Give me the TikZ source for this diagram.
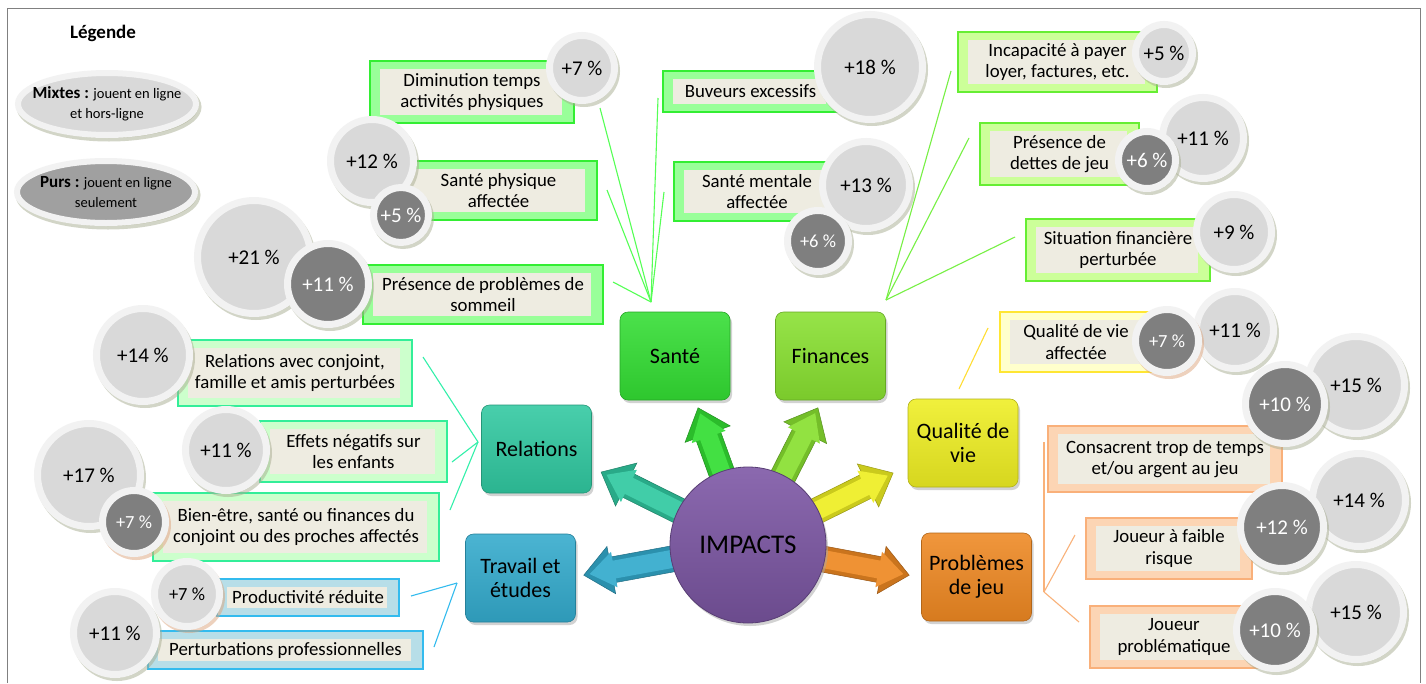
\documentclass[tikz,border=0pt]{standalone}
\usepackage{fontspec}
\setmainfont{Carlito}
\usetikzlibrary{shapes.geometric,shadows}

% disc and panel colours
\definecolor{ring}{HTML}{F2F2F2}
\definecolor{discL}{HTML}{D9D9D9}
\definecolor{discD}{HTML}{7F7F7F}
\definecolor{pillD}{HTML}{A0A0A0}
\definecolor{shol}{HTML}{A7AC90}
\definecolor{shor}{HTML}{DDA47C}
\definecolor{beige}{HTML}{EEECE1}
\definecolor{frame}{HTML}{808080}
% group colours
\definecolor{gBorder}{HTML}{33EE33}
\definecolor{gFill}{HTML}{99FF99}
\definecolor{fBorder}{HTML}{66EE33}
\definecolor{fFill}{HTML}{CCFF99}
\definecolor{rBorder}{HTML}{33EE99}
\definecolor{rFill}{HTML}{CCFFCC}
\definecolor{qBorder}{HTML}{FFE633}
\definecolor{qFill}{HTML}{FFFFCC}
\definecolor{pBorder}{HTML}{F9B07A}
\definecolor{pFill}{HTML}{FCD5B4}
\definecolor{tBorder}{HTML}{33BBEE}
\definecolor{tFill}{HTML}{B7DEE8}
% hub colours
\definecolor{cSante}{HTML}{33DD33}
\definecolor{cFin}{HTML}{88E030}
\definecolor{cRel}{HTML}{30C8A0}
\definecolor{cQual}{HTML}{EEEE22}
\definecolor{cTrav}{HTML}{33AACC}
\definecolor{cProb}{HTML}{EE8822}
\definecolor{cImp}{HTML}{7E58A6}
% connector colours
\definecolor{lnS}{HTML}{55FF55}
\definecolor{lnF}{HTML}{77F044}
\definecolor{lnR}{HTML}{33F0AA}
\definecolor{lnQ}{HTML}{FFDD33}
\definecolor{lnP}{HTML}{F9B27A}
\definecolor{lnT}{HTML}{33BBEE}

\tikzset{
  infobox/.style 2 args={rectangle, inner sep=0pt, align=center,
    font=\fontsize{18.8}{21.5}\selectfont, draw=#1, fill=#2, line width=1.6pt,
    path picture={\fill[beige]
      ([xshift=10pt,yshift=-8pt]path picture bounding box.north west) rectangle
      ([xshift=-12pt,yshift=8pt]path picture bounding box.south east);}},
  gbox/.style={infobox={gBorder}{gFill}},
  fbox/.style={infobox={fBorder}{fFill}},
  rbox/.style={infobox={rBorder}{rFill}},
  qbox/.style={infobox={qBorder}{qFill}},
  pbox/.style={infobox={pBorder}{pFill}},
  tbox/.style={infobox={tBorder}{tFill}},
  discbase/.style={circle, inner sep=0pt, line width=7pt, draw=ring,
    minimum size={2*#1-7}, font=\fontsize{21}{24}\selectfont},
  olsh/.style={drop shadow={shadow xshift=2pt, shadow yshift=-3pt,
    fill=shol, draw=shol, line width=7pt}},
  orsh/.style={drop shadow={shadow xshift=2pt, shadow yshift=-3pt,
    fill=shor, draw=shor, line width=7pt}},
  pl/.style={discbase=#1, olsh, fill=discL, text=black},
  pd/.style={discbase=#1, olsh, fill=discD, text=white},
  plo/.style={discbase=#1, orsh, fill=discL, text=black},
  pdo/.style={discbase=#1, orsh, fill=discD, text=white},
  smalltxt/.style={font=\fontsize{18.5}{22}\selectfont},
  legendpill/.style={ellipse, inner sep=0pt, line width=6pt, draw=ring,
    minimum width=178, minimum height=62, olsh},
  pilltext/.style={align=center, font=\fontsize{14.5}{19.5}\selectfont},
  hubbox/.style={rectangle, rounded corners=8pt, minimum width=110,
    minimum height=88, align=center, font=\fontsize{22}{24}\selectfont,
    draw=#1!75!black, line width=0.6pt, top color=#1!88!white,
    bottom color=#1!90!black,
    drop shadow={shadow xshift=2pt, shadow yshift=-3pt, fill=black!35}},
  link/.style={draw=#1, line width=1.1pt},
}

\begin{document}
\begin{tikzpicture}[x=1pt, y=-1pt]
\useasboundingbox (0,0) rectangle (1426,683);
\fill[white] (0,0) rectangle (1426,683);
\draw[frame, line width=1pt] (7,683) -- (7,8) -- (1420,8) -- (1420,683);

% legend
\node[font=\fontsize{19}{22}\selectfont\bfseries] (leg) at (103,33) {Légende};
\node[legendpill, fill=discL] (mix) at (107,104) {};
\node[pilltext] (mixt) at (mix.center)
  {{\fontsize{17}{19.5}\selectfont\bfseries Mixtes :} jouent en ligne\\et hors-ligne};
\node[legendpill, fill=pillD] (pur) at (106,192) {};
\node[pilltext] (purt) at (pur.center)
  {{\fontsize{17}{19.5}\selectfont\bfseries Purs :} jouent en ligne\\seulement};

% connector end points
\coordinate (hS) at (651,302);
\coordinate (eS1) at (600,108);
\coordinate (eS2) at (607,190);
\coordinate (eS3) at (613,282);
\coordinate (eS4) at (658,98);
\coordinate (eS5) at (664,192);
\coordinate (hF) at (886,300);
\coordinate (eF1) at (951,71);
\coordinate (eF2) at (969,138);
\coordinate (eF3) at (1015,237);
\coordinate (eQ1) at (959,389);
\coordinate (eQ2) at (988,328);
\coordinate (hP) at (1044,592);
\coordinate (eP1) at (1044,442);
\coordinate (eP2) at (1075,535);
\coordinate (eP3) at (1079,622);
\coordinate (hR) at (478,442);
\coordinate (eR1) at (423,357);
\coordinate (eR2) at (452,462);
\coordinate (eR3) at (450,510);
\coordinate (hT) at (457,583);
\coordinate (eT1) at (411,596);
\coordinate (eT2) at (434,647);

\foreach \e in {eS1,eS2,eS3,eS4,eS5} \draw[link=lnS] (hS) -- (\e);
\foreach \e in {eF1,eF2,eF3} \draw[link=lnF] (hF) -- (\e);
\draw[link=lnQ] (eQ1) -- (eQ2);
\foreach \e in {eP1,eP2,eP3} \draw[link=lnP] (hP) -- (\e);
\foreach \e in {eR1,eR2,eR3} \draw[link=lnR] (hR) -- (\e);
\foreach \e in {eT1,eT2} \draw[link=lnT] (hT) -- (\e);

% santé panels
\node[gbox, minimum width=204, minimum height=62] (dim) at (472,92) {Diminution temps\\activités physiques};
\node[gbox, minimum width=197, minimum height=59] (sph) at (498.5,190.5) {Santé physique\\affectée};
\node[gbox, minimum width=240, minimum height=59] (som) at (483,294.5) {Présence de problèmes de\\sommeil};
\node[gbox, minimum width=175, minimum height=41] (buv) at (750.5,91.5) {Buveurs excessifs};
\node[gbox, minimum width=166, minimum height=59] (smt) at (757,191.5) {Santé mentale\\affectée};
% finances panels
\node[fbox, minimum width=199, minimum height=60] (inc) at (1057.5,62) {Incapacité à payer\\loyer, factures, etc.};
\node[fbox, minimum width=159, minimum height=62] (det) at (1059.5,154) {Présence de\\dettes de jeu};
\node[fbox, minimum width=184, minimum height=62] (sit) at (1118,250) {Situation financière\\perturbée};
% qualité de vie panel
\node[qbox, minimum width=152, minimum height=60] (qv) at (1076,342) {Qualité de vie\\affectée};
% problèmes de jeu panels
\node[pbox, minimum width=234, minimum height=66] (con) at (1165,459) {Consacrent trop de temps\\et/ou argent au jeu};
\node[pbox, minimum width=166, minimum height=61] (fai) at (1169,548.5) {Joueur à faible\\risque};
\node[pbox, minimum width=168, minimum height=62] (pro) at (1174,637) {Joueur\\problématique};
% relations panels
\node[rbox, minimum width=234, minimum height=66] (rel) at (295,373) {Relations avec conjoint,\\famille et amis perturbées};
\node[rbox, minimum width=187, minimum height=61] (eff) at (353.5,451.5) {Effets négatifs sur\\les enfants};
\node[rbox, minimum width=286, minimum height=68] (bien) at (296,527) {Bien-être, santé ou finances du\\conjoint ou des proches affectés};
% travail panels
\node[tbox, minimum width=182, minimum height=37] (prod) at (308,597.5) {Productivité réduite};
\node[tbox, minimum width=275, minimum height=38] (pert) at (285.5,650) {Perturbations professionnelles};

% mixed players
\node[pl=36] (c1) at (582,68) {+7 \%};
\node[pl=45] (c2) at (372,161) {+12 \%};
\node[pl=60] (c3) at (254,257) {+21 \%};
\node[pl=56] (c4) at (870,67) {+18 \%};
\node[pl=47] (c5) at (866,185) {+13 \%};
\node[pl=32] (c6) at (1164,53) {+5 \%};
\node[pl=44] (c7) at (1203,138) {+11 \%};
\node[pl=41] (c8) at (1234,232) {+9 \%};
\node[pl=42] (c9) at (1235,330) {+11 \%};
\node[pl=52] (c10) at (1356,385) {+15 \%};
\node[pl=50] (c11) at (1359,500) {+14 \%};
\node[pl=51] (c12) at (1356,612) {+15 \%};
\node[pl=50] (c13) at (143,355) {+14 \%};
\node[pl=44] (c14) at (226,450) {+11 \%};
\node[pl=55] (c15) at (89,475) {+17 \%};
\node[plo=36, smalltxt] (c16) at (187,594) {+7 \%};
\node[pl=45] (c17) at (115,633) {+11 \%};
% pure online players
\node[pd=31] (d1) at (401,215) {+5 \%};
\node[pd=44] (d2) at (328,284) {+11 \%};
\node[pd=34, smalltxt] (d3) at (818,241) {+6 \%};
\node[pd=32] (d4) at (1147,160) {+6 \%};
\node[pdo=35, smalltxt] (d5) at (1167,341) {+7 \%};
\node[pd=43] (d6) at (1285,404) {+10 \%};
\node[pd=45] (d7) at (1282,527) {+12 \%};
\node[pd=42] (d8) at (1275,630) {+10 \%};
\node[pdo=35, smalltxt] (d9) at (134,522) {+7 \%};

% block arrows radiating from the hub, with a bevelled rim
\coordinate (hub) at (748,545);
\foreach \ang/\tip/\col in {110/146/cSante, 63/154/cFin, 153.6/164/cRel,
    26.4/162/cQual, 190.4/167/cTrav, -10.6/164/cProb}{
  \begin{scope}[shift={(hub)}, rotate=\ang]
    \filldraw[fill=\col!85!black, draw=\col!65!black, line width=0.5pt]
      (66,-13) -- ({\tip-28},-13) -- ({\tip-28},-24) -- (\tip,0)
      -- ({\tip-28},24) -- ({\tip-28},13) -- (66,13) -- cycle;
    \fill[\col!92!white]
      (66,-9) -- ({\tip-31},-9) -- ({\tip-31},-18) -- ({\tip-6},0)
      -- ({\tip-31},18) -- ({\tip-31},9) -- (66,9) -- cycle;
  \end{scope}
}

% category boxes
\node[hubbox=cSante] (sante) at (675,356) {Santé};
\node[hubbox=cFin] (fin) at (830.5,356) {Finances};
\node[hubbox=cRel] (relh) at (536.5,449) {Relations};
\node[hubbox=cQual] (qual) at (963,443) {Qualité de\\vie};
\node[hubbox=cTrav] (trav) at (520.5,578) {Travail et\\études};
\node[hubbox=cProb] (prob) at (976.5,577) {Problèmes\\de jeu};

% centre
\node[circle, minimum size=156, inner sep=0pt, top color=cImp!90!white,
  bottom color=cImp!85!black, draw=cImp!70!black, line width=0.8pt,
  font=\fontsize{27}{30}\selectfont,
  drop shadow={shadow xshift=2pt, shadow yshift=-3pt, fill=black!35}] (imp) at (hub) {IMPACTS};
\end{tikzpicture}
\end{document}
